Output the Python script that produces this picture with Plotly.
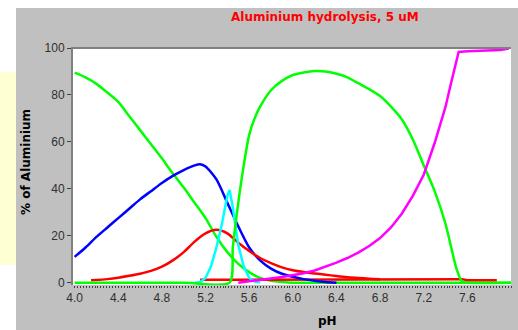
import plotly.graph_objects as go

# ---------------- data ----------------
ph_al3 = [4.0, 4.1, 4.2, 4.3, 4.4, 4.5, 4.6, 4.7, 4.8, 4.9, 5.0, 5.1, 5.2, 5.3, 5.4,
          5.5, 5.6, 5.7, 5.8, 5.9, 6.0, 7.0, 8.0]
al3 = [89.5, 87.5, 84.7, 81, 77, 71, 65, 59, 53, 46.5, 40.5, 34, 27.5, 19.5, 13,
       8, 4.5, 2, 0.8, 0.3, 0, 0, 0]

ph_aloh = [4.0, 4.1, 4.2, 4.3, 4.4, 4.5, 4.6, 4.7, 4.8, 4.9, 5.0, 5.1, 5.15, 5.2, 5.3,
           5.4, 5.5, 5.6, 5.7, 5.8, 5.9, 6.0, 6.1, 6.2, 6.3, 6.4]
aloh = [11, 15, 19.5, 23.5, 27.5, 31.5, 35.5, 39, 42.5, 45.5, 48, 50, 50.5, 49.5, 44,
        34, 24, 15, 9.5, 6, 3.8, 2.5, 1.5, 0.8, 0.3, 0]

ph_aloh2 = [4.15, 4.2, 4.3, 4.4, 4.5, 4.6, 4.7, 4.8, 4.9, 5.0, 5.1, 5.2, 5.3, 5.4, 5.5,
            5.6, 5.7, 5.8, 5.9, 6.0, 6.1, 6.2, 6.3, 6.4, 6.5, 6.6, 6.7, 6.8]
aloh2 = [1.0, 1.1, 1.5, 2.1, 2.9, 3.8, 5, 6.8, 9.5, 13, 17.5, 21, 22.5, 21, 17,
         13.5, 10.5, 8.3, 6.5, 5.3, 4.5, 3.9, 3.4, 2.8, 2.3, 2.0, 1.7, 1.5]

ph_minor = [5.15, 6.0, 7.0, 7.55, 7.6, 7.87]
minor_sp = [1.2, 1.4, 1.5, 1.5, 1.0, 1.0]

ph_al13 = [5.1, 5.15, 5.2, 5.25, 5.3, 5.35, 5.4, 5.42, 5.45, 5.5, 5.55, 5.6, 5.65, 5.7]
al13 = [0, 0.3, 2, 7, 15, 25, 37, 39.5, 32, 16, 7, 2, 0.5, 0]

ph_aloh3 = [4.0, 5.0, 5.42, 5.45, 5.5, 5.55, 5.6, 5.65, 5.7, 5.8, 5.9, 6.0, 6.1, 6.2,
            6.3, 6.4, 6.5, 6.6, 6.7, 6.8, 6.9, 7.0, 7.1, 7.2, 7.3, 7.4, 7.5, 7.55,
            7.6, 8.0]
aloh3 = [0, 0, 0, 15, 34, 50, 63, 70, 75, 82, 86, 88.5, 89.6, 90.2,
         90, 89, 87.5, 85, 82.5, 79.5, 75, 69.5, 61, 50, 39, 25, 6, 0.5,
         0, 0]

ph_aloh4 = [5.5, 5.6, 5.7, 5.8, 5.9, 6.0, 6.1, 6.2, 6.3, 6.4, 6.5, 6.6, 6.7, 6.8, 6.9,
            7.0, 7.1, 7.2, 7.3, 7.4, 7.45, 7.52, 7.6, 7.7, 7.8, 7.9, 7.98]
aloh4 = [0, 0.5, 1.2, 1.8, 2.4, 3.1, 4, 5.2, 6.8, 8.5, 10.5, 12.8, 15.6, 19, 23.5,
         29.5, 37, 46, 59.5, 75, 85, 98.3, 98.6, 98.8, 99.0, 99.2, 99.8]

x_ticks = [4.0, 4.4, 4.8, 5.2, 5.6, 6.0, 6.4, 6.8, 7.2, 7.6, 8.0]
y_ticks = [0, 20, 40, 60, 80, 100]

title_text = "Aluminium hydrolysis, 5 uM"
y_title = "% of Aluminium"
x_title = "pH"

# ---------------- figure ----------------
GREEN = "#00FF00"
BLUE = "#0000FF"
RED = "#FF0000"
CYAN = "#00FFFF"
MAGENTA = "#FF00FF"
LW = 2.5

series = [
    (ph_al3, al3, GREEN, "spline"),
    (ph_minor, minor_sp, RED, "linear"),
    (ph_aloh, aloh, BLUE, "spline"),
    (ph_aloh2, aloh2, RED, "spline"),
    (ph_al13, al13, CYAN, "linear"),
    (ph_aloh3, aloh3, GREEN, "spline"),
    (ph_aloh4, aloh4, MAGENTA, "linear"),
]

fig = go.Figure()
for xs, ys, col, shape in series:
    line = dict(color=col, width=LW, shape=shape)
    if shape == "spline":
        line["smoothing"] = 0.7
    fig.add_trace(go.Scatter(x=xs, y=ys, mode="lines", line=line,
                             hoverinfo="skip", showlegend=False))

W, H = 518, 330
L, R, T, B = 73, 7, 48, 45
pw, ph_ = W - L - R, H - T - B


def px_x(px):
    return (px - L) / pw


def px_y(py):
    return (H - B - py) / ph_


shapes = [
    dict(type="rect", xref="paper", yref="paper", layer="below",
         x0=px_x(0), x1=px_x(16), y0=px_y(H), y1=px_y(0),
         fillcolor="white", line_width=0),
    dict(type="rect", xref="paper", yref="paper", layer="below",
         x0=px_x(0), x1=px_x(W), y0=px_y(8), y1=px_y(0),
         fillcolor="white", line_width=0),
    dict(type="rect", xref="paper", yref="paper", layer="below",
         x0=px_x(0), x1=px_x(16), y0=px_y(265), y1=px_y(72),
         fillcolor="#FFFFD4", line_width=0),
    dict(type="line", xref="paper", yref="paper",
         x0=px_x(71), x1=1, y0=1, y1=1,
         line=dict(color="#808080", width=2)),
]

annotations = [
    dict(text=title_text, xref="paper", yref="paper", x=px_x(325), y=px_y(17),
         xanchor="center", yanchor="middle", showarrow=False,
         font=dict(family="DejaVu Sans", size=12, color="#FF0000", weight="bold")),
    dict(text=y_title, xref="paper", yref="paper", x=px_x(26), y=px_y(162),
         xanchor="center", yanchor="middle", showarrow=False, textangle=-90,
         font=dict(family="DejaVu Sans", size=12, color="#000000", weight="bold")),
    dict(text=x_title, xref="paper", yref="paper", x=px_x(327), y=px_y(321),
         xanchor="center", yanchor="middle", showarrow=False,
         font=dict(family="DejaVu Sans", size=12, color="#000000", weight="bold")),
]

fig.update_layout(
    width=W, height=H,
    margin=dict(l=L, r=R, t=T, b=B, pad=0),
    paper_bgcolor="#C0C0C0",
    plot_bgcolor="#FFFFFF",
    shapes=shapes,
    annotations=annotations,
    showlegend=False,
    xaxis=dict(
        range=[3.985, 8.0], tickmode="array", tickvals=x_ticks,
        ticktext=[f"{v:.1f}" for v in x_ticks],
        showgrid=False, zeroline=False, showline=False,
        ticks="outside", ticklen=2, tickwidth=1, tickcolor="#404040",
        minor=dict(dtick=0.4 / 15, tick0=4.0, ticks="outside", ticklen=2,
                   tickwidth=1, tickcolor="#404040", showgrid=False),
        tickfont=dict(family="Liberation Sans", size=12, color="#303030"),
        fixedrange=True,
    ),
    yaxis=dict(
        range=[-1.0, 100], tickmode="array", tickvals=y_ticks,
        showgrid=False, zeroline=False,
        showline=True, linecolor="#808080", linewidth=2,
        ticks="outside", ticklen=4, tickwidth=1, tickcolor="#404040",
        tickfont=dict(family="Liberation Sans", size=12, color="#303030"),
        fixedrange=True,
    ),
)

fig.write_html("out.html")
